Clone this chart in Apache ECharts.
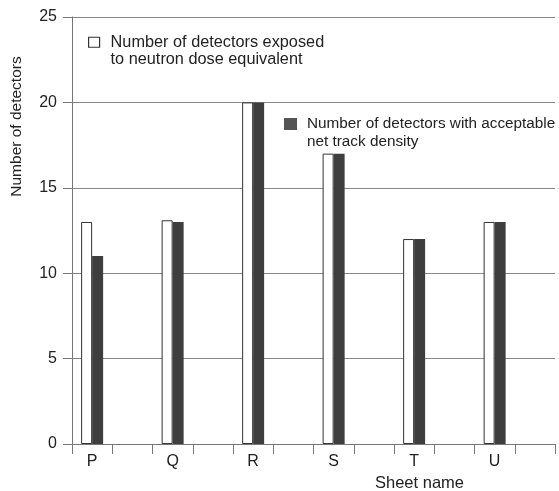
<!DOCTYPE html>
<html>
<head>
<meta charset="utf-8">
<script src="https://cdn.jsdelivr.net/npm/echarts@6/dist/echarts.min.js"></script>
<style>html,body{margin:0;padding:0;background:#fff}#c{width:559px;height:491px}</style>
</head>
<body>
<div id="c"></div>
<script>
const categories = ['P', 'Q', 'R', 'S', 'T', 'U'];
const exposed = [13, 13.1, 20, 17, 12, 13];
const acceptable = [11, 13, 20, 17, 12, 13];
const yTicks = [0, 5, 10, 15, 20, 25];
const seriesNames = ['Number of detectors exposed\nto neutron dose equivalent', 'Number of detectors with acceptable\nnet track density'];

// Each sheet occupies two tick intervals: the bars sit in the first, the second is empty.
const slots = [], exposedSlots = [], acceptableSlots = [];
categories.forEach((c, i) => {
  slots.push(c, ' ' + i);
  exposedSlots.push(exposed[i], null);
  acceptableSlots.push(acceptable[i], null);
});

const FONT = '"Liberation Sans", Arial, Helvetica, sans-serif';
const chart = echarts.init(document.getElementById('c'), null, {renderer: 'canvas'});
chart.setOption({
  animation: false,
  textStyle: {fontFamily: FONT, color: '#222'},
  grid: {left: 72, right: 4, top: 17, bottom: 47, containLabel: false, outerBoundsMode: 'none'},
  legend: [
    {
      data: [seriesNames[0]], left: 88, top: 16, padding: 0,
      itemWidth: 11, itemHeight: 10, icon: 'rect', selectedMode: false,
      formatter: n => '\n' + n,
      itemStyle: {color: '#fff', borderColor: '#333', borderWidth: 1.2},
      textStyle: {fontFamily: FONT, fontSize: 16.3, color: '#222', lineHeight: 17.5, padding: [0, 0, 0, 6]}
    },
    {
      data: [seriesNames[1]], left: 284, top: 97, padding: 0,
      itemWidth: 13, itemHeight: 12, icon: 'rect', selectedMode: false,
      formatter: n => '\n' + n,
      itemStyle: {color: '#555', borderWidth: 0},
      textStyle: {fontFamily: FONT, fontSize: 15.3, color: '#222', lineHeight: 18, padding: [0, 0, 0, 5]}
    }
  ],
  xAxis: {
    type: 'category', data: slots, boundaryGap: true,
    name: 'Sheet name', nameLocation: 'middle', nameGap: 31,
    nameTextStyle: {fontFamily: FONT, fontSize: 16.5, color: '#222', padding: [0, 0, 0, 212]},
    axisLine: {show: true, lineStyle: {color: '#777', width: 1}},
    axisTick: {show: true, interval: 0, length: 10, inside: false, lineStyle: {color: '#777'}},
    axisLabel: {interval: 0, margin: 10, fontSize: 16, color: '#222', fontFamily: FONT,
      formatter: v => (v.trim() === v ? v : '')},
    splitLine: {show: false}
  },
  yAxis: {
    type: 'value', min: yTicks[0], max: yTicks[yTicks.length - 1], interval: 5,
    name: 'Number of detectors', nameLocation: 'middle', nameGap: 47, nameRotate: 90,
    nameTextStyle: {fontFamily: FONT, fontSize: 15.5, color: '#222', padding: [0, 0, 0, 208]},
    axisLine: {show: true, lineStyle: {color: '#777', width: 1}},
    axisTick: {show: true, length: 9, inside: false, lineStyle: {color: '#777'}},
    axisLabel: {margin: 15, fontSize: 16, color: '#222', fontFamily: FONT},
    splitLine: {show: true, lineStyle: {color: '#888', width: 1}}
  },
  series: [
    {
      name: seriesNames[0], type: 'bar', data: exposedSlots,
      barWidth: 11, barGap: '0%',
      itemStyle: {color: '#fff', borderColor: '#333', borderWidth: 1}
    },
    {
      name: seriesNames[1], type: 'bar', data: acceptableSlots,
      barWidth: 11, barGap: '0%',
      itemStyle: {color: '#3e3e3e'}
    }
  ]
});
</script>
</body>
</html>
